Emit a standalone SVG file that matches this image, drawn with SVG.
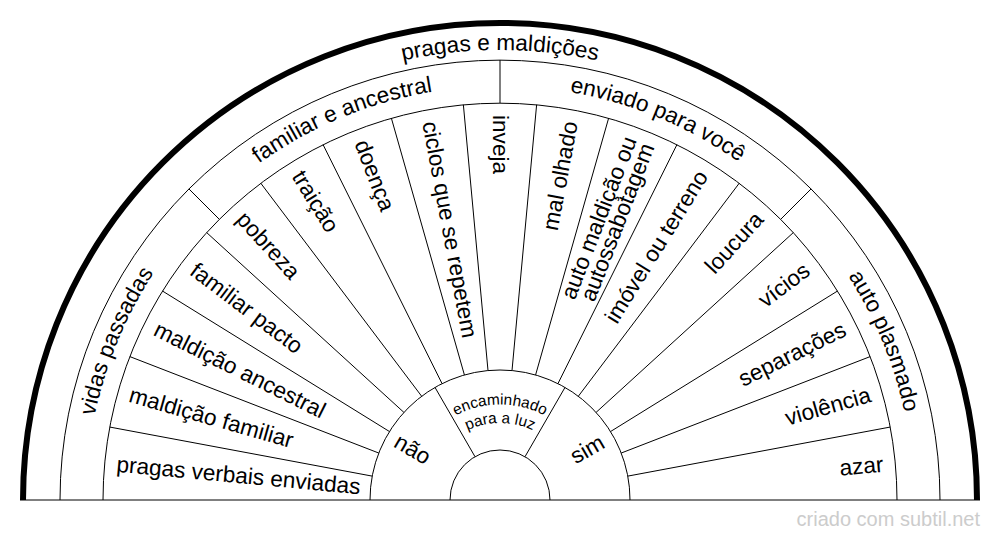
<svg xmlns="http://www.w3.org/2000/svg" xmlns:xlink="http://www.w3.org/1999/xlink" width="1000" height="540" viewBox="0 0 1000 540">
<style>
.t{font-family:"Liberation Sans",Arial,sans-serif;font-size:22.6px;fill:#000}
.s{font-size:15.4px}
.ln{stroke:#000;stroke-width:1;fill:none}
.wm{font-family:"Liberation Sans",Arial,sans-serif;font-size:20px;fill:#ccc}
</style>
<defs>
<path id="p450" d="M 50 500 A 450 450 0 0 1 950 500"/>
<path id="p414" d="M 86 500 A 414 414 0 0 1 914 500"/>
<path id="p95" d="M 404.5 500 A 95.5 95.5 0 0 1 595.5 500"/>
<path id="p77" d="M 423 500 A 77 77 0 0 1 577 500"/>
</defs>
<rect width="1000" height="540" fill="#fff"/>
<g id="connectors">
<path d="M 23 500 A 477 477 0 0 1 977 500" fill="none" stroke="#000" stroke-width="6"/>
<path class="ln" d="M 60 500 A 440 440 0 0 1 940 500"/>
<path class="ln" d="M 103 500 A 397 397 0 0 1 897 500"/>
<path class="ln" d="M 370 500 A 130 130 0 0 1 630 500"/>
<path class="ln" d="M 450 500 A 50 50 0 0 1 550 500"/>
<line class="ln" x1="20" y1="500" x2="980" y2="500"/>
<line class="ln" x1="500" y1="103" x2="500" y2="60"/>
<line class="ln" x1="219.28" y1="219.28" x2="188.87" y2="188.87"/>
<line class="ln" x1="780.72" y1="219.28" x2="811.13" y2="188.87"/>
<line class="ln" x1="475" y1="456.70" x2="435" y2="387.42"/>
<line class="ln" x1="525" y1="456.70" x2="565" y2="387.42"/>
<line class="ln" x1="627.79" y1="476.11" x2="890.24" y2="427.05"/>
<line class="ln" x1="621.22" y1="453.04" x2="870.19" y2="356.59"/>
<line class="ln" x1="610.53" y1="431.56" x2="837.54" y2="291.01"/>
<line class="ln" x1="596.07" y1="412.42" x2="793.39" y2="232.54"/>
<line class="ln" x1="578.34" y1="396.26" x2="739.25" y2="183.19"/>
<line class="ln" x1="557.94" y1="383.63" x2="676.95" y2="144.62"/>
<line class="ln" x1="535.58" y1="374.96" x2="608.64" y2="118.15"/>
<line class="ln" x1="512.00" y1="370.56" x2="536.63" y2="104.70"/>
<line class="ln" x1="488.00" y1="370.56" x2="463.37" y2="104.70"/>
<line class="ln" x1="464.42" y1="374.96" x2="391.36" y2="118.15"/>
<line class="ln" x1="442.06" y1="383.63" x2="323.05" y2="144.62"/>
<line class="ln" x1="421.66" y1="396.26" x2="260.75" y2="183.19"/>
<line class="ln" x1="403.93" y1="412.42" x2="206.61" y2="232.54"/>
<line class="ln" x1="389.47" y1="431.56" x2="162.46" y2="291.01"/>
<line class="ln" x1="378.78" y1="453.04" x2="129.81" y2="356.59"/>
<line class="ln" x1="372.21" y1="476.11" x2="109.76" y2="427.05"/>
</g>
<g id="title"><text class="t" text-anchor="middle"><textPath xlink:href="#p450" href="#p450" startOffset="50%">pragas e maldições</textPath></text></g>
<g id="vidas-passadas"><text class="t" text-anchor="middle"><textPath xlink:href="#p414" href="#p414" startOffset="12.5%">vidas passadas</textPath></text></g>
<g id="familiar-ancestral"><text class="t" text-anchor="middle"><textPath xlink:href="#p414" href="#p414" startOffset="37.5%">familiar e ancestral</textPath></text></g>
<g id="enviado"><text class="t" text-anchor="middle"><textPath xlink:href="#p414" href="#p414" startOffset="62.5%">enviado para você</textPath></text></g>
<g id="auto-plasmado"><text class="t" text-anchor="middle"><textPath xlink:href="#p414" href="#p414" startOffset="87.5%">auto plasmado</textPath></text></g>
<g id="s0"><text class="t" transform="translate(500 500) rotate(5.294)" x="-385" dy="0.32em">pragas verbais enviadas</text></g>
<g id="s1"><text class="t" transform="translate(500 500) rotate(15.882)" x="-385" dy="0.32em">maldição familiar</text></g>
<g id="s2"><text class="t" transform="translate(500 500) rotate(26.471)" x="-385" dy="0.32em">maldição ancestral</text></g>
<g id="s3"><text class="t" transform="translate(500 500) rotate(37.059)" x="-385" dy="0.32em">familiar pacto</text></g>
<g id="s4"><text class="t" transform="translate(500 500) rotate(47.647)" x="-385" dy="0.32em">pobreza</text></g>
<g id="s5"><text class="t" transform="translate(500 500) rotate(58.235)" x="-385" dy="0.32em">traição</text></g>
<g id="s6"><text class="t" transform="translate(500 500) rotate(68.824)" x="-385" dy="0.32em">doença</text></g>
<g id="s7"><text class="t" transform="translate(500 500) rotate(79.412)" x="-385" dy="0.32em">ciclos que se repetem</text></g>
<g id="s8"><text class="t" transform="translate(500 500) rotate(90)" x="-385" dy="0.32em">inveja</text></g>
<g id="s9"><text class="t" transform="translate(500 500) rotate(-79.412)" x="385" dy="0.32em" text-anchor="end">mal olhado</text></g>
<g id="s10"><text class="t" transform="translate(500 500) rotate(-68.824)" text-anchor="end"><tspan x="385" y="-9.5" dy="0.32em">auto maldição ou</tspan><tspan x="385" y="9.5" dy="0.32em">autossabotagem</tspan></text></g>
<g id="s11"><text class="t" transform="translate(500 500) rotate(-58.235)" x="385" dy="0.32em" text-anchor="end">imóvel ou terreno</text></g>
<g id="s12"><text class="t" transform="translate(500 500) rotate(-47.647)" x="385" dy="0.32em" text-anchor="end">loucura</text></g>
<g id="s13"><text class="t" transform="translate(500 500) rotate(-37.059)" x="385" dy="0.32em" text-anchor="end">vícios</text></g>
<g id="s14"><text class="t" transform="translate(500 500) rotate(-26.471)" x="385" dy="0.32em" text-anchor="end">separações</text></g>
<g id="s15"><text class="t" transform="translate(500 500) rotate(-15.882)" x="385" dy="0.32em" text-anchor="end">violência</text></g>
<g id="s16"><text class="t" transform="translate(500 500) rotate(-5.294)" x="385" dy="0.32em" text-anchor="end">azar</text></g>
<g id="nao"><text class="t" transform="translate(500 500) rotate(30)" x="-101" dy="0.32em" text-anchor="middle">não</text></g>
<g id="encaminhado"><text class="t s" text-anchor="middle"><textPath xlink:href="#p95" href="#p95" startOffset="50%">encaminhado</textPath></text><text class="t s" text-anchor="middle"><textPath xlink:href="#p77" href="#p77" startOffset="50%">para a luz</textPath></text></g>
<g id="sim"><text class="t" transform="translate(500 500) rotate(-30)" x="101" dy="0.32em" text-anchor="middle">sim</text></g>
<text class="wm" x="980" y="526" text-anchor="end">criado com subtil.net</text>
</svg>
